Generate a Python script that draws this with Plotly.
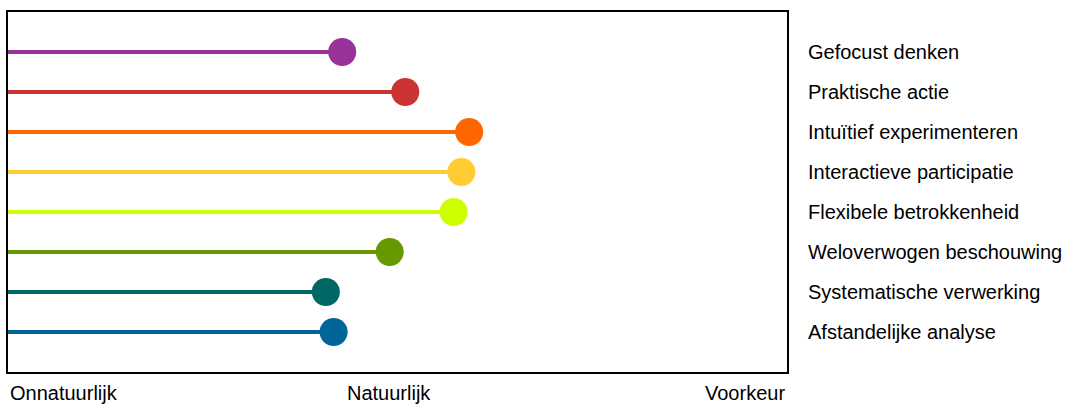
import plotly.graph_objects as go

categories = [
    "Gefocust denken",
    "Praktische actie",
    "Intuïtief experimenteren",
    "Interactieve participatie",
    "Flexibele betrokkenheid",
    "Weloverwogen beschouwing",
    "Systematische verwerking",
    "Afstandelijke analyse",
]
values = [42.9, 51.0, 59.2, 58.2, 57.2, 49.0, 40.8, 41.8]
colors = ["#993399", "#CC3333", "#FF6600", "#FFCC33", "#CCFF00", "#669900", "#006666", "#006699"]

x_tick_vals = [0, 48.9, 100]
x_tick_text = ["Onnatuurlijk", "Natuurlijk", "Voorkeur"]
x_tick_anchor = ["left", "center", "right"]

FONT = "Liberation Sans, Arial, sans-serif"

fig = go.Figure()
for cat, v, c in zip(categories, values, colors):
    fig.add_trace(go.Scatter(
        x=[0, v], y=[cat, cat], mode="lines",
        line=dict(color=c, width=4), showlegend=False, hoverinfo="skip",
    ))
fig.add_trace(go.Scatter(
    x=values, y=categories, mode="markers",
    marker=dict(color=colors, size=28, line=dict(width=0)),
    showlegend=False,
))

for xv, txt, anc in zip(x_tick_vals, x_tick_text, x_tick_anchor):
    fig.add_annotation(
        x=xv, xref="x", y=0, yref="paper", yanchor="top", yshift=-8,
        xanchor=anc, text=txt, showarrow=False,
        font=dict(family=FONT, size=20, color="#000000"),
    )

fig.update_layout(
    width=1066, height=406,
    margin=dict(l=8, r=279, t=12, b=34),
    paper_bgcolor="white", plot_bgcolor="white",
    font=dict(family=FONT, size=20, color="#000000"),
    xaxis=dict(
        range=[0, 100], showgrid=False, zeroline=False, showticklabels=False,
        showline=True, linecolor="black", linewidth=2, mirror=True, ticks="",
        fixedrange=True,
    ),
    yaxis=dict(
        type="category", categoryarray=categories, range=[8, -1],
        side="right", showgrid=False, zeroline=False,
        showline=True, linecolor="black", linewidth=2, mirror=True, ticks="",
        ticklabelstandoff=15, tickfont=dict(family=FONT, size=20, color="#000000"),
        automargin=False, fixedrange=True,
    ),
)

fig.write_html(
    "out.html",
    config={"displayModeBar": False},
    post_script="document.body.style.margin='0px';document.body.style.overflow='hidden';",
)
